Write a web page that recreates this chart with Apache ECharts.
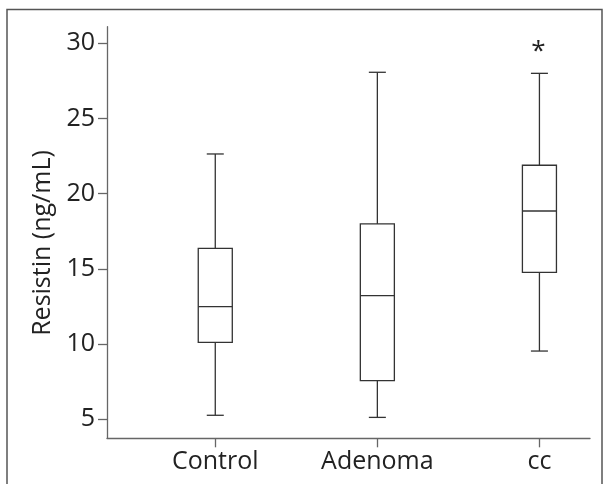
<!DOCTYPE html>
<html><head><meta charset="utf-8">
<script src="https://cdn.jsdelivr.net/npm/echarts@6/dist/echarts.min.js"></script>
<style>html,body{margin:0;padding:0;background:#fff}#c{width:606px;height:484px}</style>
</head><body><div id="c"></div>
<script>
const categories = ['Control', 'Adenoma', 'cc'];
const categoryPos = [1, 2, 3];
const whiskerLow = [5.27, 5.13, 9.54];
const q1 = [10.12, 7.57, 14.77];
const median = [12.49, 13.22, 18.85];
const q3 = [16.37, 17.99, 21.89];
const whiskerHigh = [22.64, 28.07, 28.0];
const outliers = [[3, 29.67]];
const yTicks = [5, 10, 15, 20, 25, 30];

const boxData = categoryPos.map((x, i) => [x, whiskerLow[i], q1[i], median[i], q3[i], whiskerHigh[i]]);
const FONT = 'Open Sans';
const chart = echarts.init(document.getElementById('c'), null, {renderer: 'canvas'});
chart.setOption({
  animation: false,
  backgroundColor: '#fff',
  textStyle: {fontFamily: FONT},
  graphic: [{
    type: 'rect', silent: true, z: 100,
    shape: {x: 7, y: 9.5, width: 595, height: 520},
    style: {fill: null, stroke: '#555', lineWidth: 1.5}
  }],
  grid: {left: 107, right: 16, top: 26.7, bottom: 45.7, containLabel: false},
  xAxis: {
    type: 'value', min: 0.332, max: 3.312,
    splitLine: {show: false},
    axisLine: {show: true, lineStyle: {color: '#666', width: 1.3}},
    axisTick: {show: true, customValues: categoryPos, length: 9, lineStyle: {color: '#666', width: 1.3}},
    axisLabel: {customValues: categoryPos, formatter: v => categories[Math.round(v) - 1],
      fontSize: 25, color: '#222', margin: 11, fontFamily: FONT}
  },
  yAxis: {
    type: 'value', min: 3.74, max: 31.1,
    name: 'Resistin (ng/mL)', nameLocation: 'middle', nameGap: 50,
    nameTextStyle: {fontSize: 25, color: '#222', fontFamily: FONT, padding: [0, 21, 0, 0]},
    splitLine: {show: false},
    axisLine: {show: true, lineStyle: {color: '#666', width: 1.3}},
    axisTick: {show: true, customValues: yTicks, length: 9, lineStyle: {color: '#666', width: 1.3}},
    axisLabel: {customValues: yTicks, fontSize: 25, color: '#222', margin: 12, fontFamily: FONT}
  },
  series: [{
    type: 'custom',
    data: boxData,
    encode: {x: 0, y: [1, 2, 3, 4, 5]},
    renderItem: function (params, api) {
      const x = api.value(0);
      const lo = api.coord([x, api.value(1)]);
      const b1 = api.coord([x, api.value(2)]);
      const md = api.coord([x, api.value(3)]);
      const b3 = api.coord([x, api.value(4)]);
      const hi = api.coord([x, api.value(5)]);
      const bw = api.size([0.21, 0])[0];
      const cw = bw / 2;
      const cx = lo[0];
      const st = {stroke: '#333', lineWidth: 1.3, fill: null};
      return {type: 'group', children: [
        {type: 'line', shape: {x1: cx, y1: hi[1], x2: cx, y2: b3[1]}, style: st},
        {type: 'line', shape: {x1: cx, y1: b1[1], x2: cx, y2: lo[1]}, style: st},
        {type: 'line', shape: {x1: cx - cw / 2, y1: hi[1], x2: cx + cw / 2, y2: hi[1]}, style: st},
        {type: 'line', shape: {x1: cx - cw / 2, y1: lo[1], x2: cx + cw / 2, y2: lo[1]}, style: st},
        {type: 'rect', shape: {x: cx - bw / 2, y: b3[1], width: bw, height: b1[1] - b3[1]}, style: {stroke: '#333', lineWidth: 1.3, fill: '#fff'}},
        {type: 'line', shape: {x1: cx - bw / 2, y1: md[1], x2: cx + bw / 2, y2: md[1]}, style: st}
      ]};
    }
  }, {
    type: 'custom',
    data: outliers,
    encode: {x: 0, y: 1},
    renderItem: function (params, api) {
      const p = api.coord([api.value(0), api.value(1)]);
      return {type: 'text', x: p[0] - 1, y: p[1] + 3.7,
        style: {text: '*', fontSize: 26, fontFamily: FONT, fill: '#222', align: 'center', verticalAlign: 'middle'}};
    }
  }]
});
</script></body></html>
